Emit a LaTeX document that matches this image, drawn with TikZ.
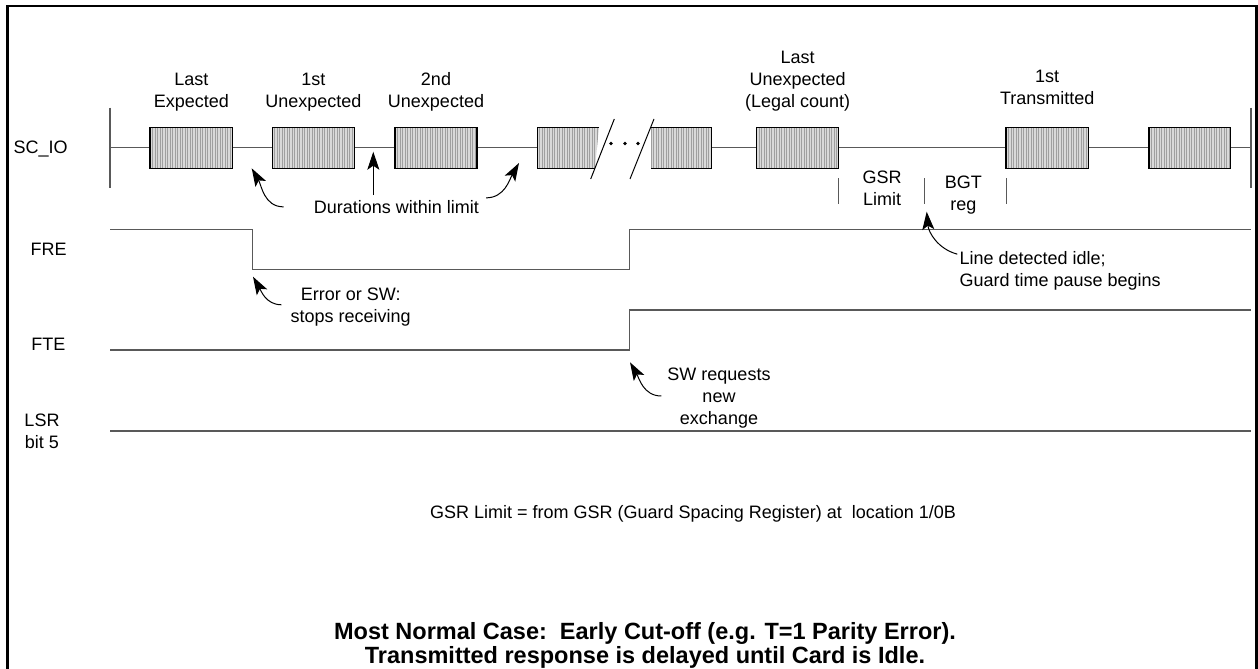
\documentclass[tikz,border=0pt]{standalone}
\usepackage{fontspec}
\setmainfont{Liberation Sans}
\usetikzlibrary{arrows.meta, positioning, calc}

% hatched data block (left x, right x)
\newcommand{\hatchfill}[2]{%
  \begin{scope}
    \clip (#1,127.3) rectangle (#2,168.3);
    \fill[gray!30] (#1,127.3) rectangle (#2,168.3);
    \foreach \k in {0,2.5,...,85}
      \draw[gray!75, line width=0.9pt] ({#1+\k},127.3) -- ({#1+\k},168.3);
  \end{scope}}

\begin{document}
\begin{tikzpicture}[
    x=1pt, y=-1pt,
    sig/.style={draw=black!65, line width=1.3pt},
    box/.style={draw=black, line width=1.4pt},
    frame/.style={draw=black, line width=2.6pt},
    brk/.style={draw=black, line width=1pt},
    lbl/.style={font=\fontsize{18}{21.6}\selectfont, align=center, inner sep=0pt},
    ttl/.style={font=\fontsize{23.5}{24}\selectfont\bfseries, align=center, inner sep=0pt},
    arr/.style={draw=black, line width=1pt, -{Stealth[length=18pt, width=12pt, inset=4pt]}}
  ]
  \useasboundingbox (0,0) rectangle (1258,669);
  \draw[frame] (7.5,669) -- (7.5,6) -- (1256.5,6) -- (1256.5,669);

  % Signal names
  \node[lbl, anchor=base] (sclbl) at (40.7,153.3) {SC\_IO};
  \node[lbl, anchor=base] (frelbl) at (48.7,255) {FRE};
  \node[lbl, anchor=base] (ftelbl) at (48.3,350) {FTE};
  \node[lbl, anchor=base] (lsrlbl) at (42,448.5) {LSR\\bit 5};

  % SC_IO line
  \draw[sig] (110,107.7) -- (110,188.3);
  \draw[sig] (1251,107.7) -- (1251,188.3);
  \draw[sig] (110,147.7) -- (537.3,147.7);
  \draw[sig] (711.7,147.7) -- (1251,147.7);
  \draw[sig] (838.7,178.3) -- (838.7,204);
  \draw[sig] (924.3,178.3) -- (924.3,204);
  \draw[sig] (1006.7,178.3) -- (1006.7,204);

  % Blocks
  \hatchfill{150}{232.3}
  \draw[box] (150,127.3) rectangle (232.3,168.3);
  \hatchfill{272.3}{354.3}
  \draw[box] (272.3,127.3) rectangle (354.3,168.3);
  \hatchfill{395}{477}
  \draw[box] (395,127.3) rectangle (477,168.3);
  \begin{scope}
    \clip (537.3,127.3) -- (599,127.3) -- (594.9,168.3) -- (537.3,168.3) -- cycle;
    \hatchfill{537.3}{600}
  \end{scope}
  \draw[box] (599,127.3) -- (537.3,127.3) -- (537.3,168.3) -- (594.9,168.3);
  \hatchfill{651}{711.7}
  \draw[box] (651,127.3) -- (711.7,127.3) -- (711.7,168.3) -- (651,168.3);
  \hatchfill{756.7}{838.7}
  \draw[box] (756.7,127.3) rectangle (838.7,168.3);
  \hatchfill{1006}{1088.3}
  \draw[box] (1006,127.3) rectangle (1088.3,168.3);
  \hatchfill{1149}{1230.7}
  \draw[box] (1149,127.3) rectangle (1230.7,168.3);

  % Break
  \draw[brk] (614.3,119) -- (590.7,179);
  \draw[brk] (654,119) -- (630,179);
  \foreach \x in {611,625,638}
    \fill (\x,143.5) circle (1.8);

  % FRE, FTE, LSR
  \draw[sig] (110,229.3) -| (252.3,269.3) -| (629.3,229.3) -- (1251,229.3);
  \draw[sig] (110,350) -| (629.3,310) -- (1251,310);
  \draw[sig] (110,431) -- (1251,431);

  % Block labels
  \node[lbl, anchor=base] (lastexp) at (191.3,107) {Last\\Expected};
  \node[lbl, anchor=base] (unexp1) at (313.3,107) {1st\\Unexpected};
  \node[lbl, anchor=base] (unexp2) at (436,107) {2nd\\Unexpected};
  \node[lbl, anchor=base] (lastunexp) at (797.7,107) {Last\\Unexpected\\(Legal count)};
  \node[lbl, anchor=base] (xmit1) at (1047.2,104) {1st\\Transmitted};
  \node[lbl, anchor=base] (gsrlim) at (882,205) {GSR\\Limit};
  \node[lbl, anchor=base] (bgtreg) at (963.3,210.5) {BGT\\reg};

  % Notes
  \node[lbl, anchor=base] (durlbl) at (396.3,213.3) {Durations within limit};
  \node[lbl, anchor=base] (errlbl) at (350.7,322) {Error or SW:\\stops receiving};
  \node[lbl, anchor=base] (swlbl) at (719,424) {SW requests\\new\\exchange};
  \node[lbl, anchor=base west, align=left] (idlelbl) at (959.3,286) {Line detected idle;\\Guard time pause begins};
  \node[lbl, anchor=base west] (note) at (430,518) {GSR Limit = from GSR (Guard Spacing Register) at\ \ location 1/0B};
  \node[ttl, anchor=base] (title) at (645,663) {Most Normal Case:\ \ Early Cut-off (e.g. T=1 Parity Error).\\Transmitted response is delayed until Card is Idle.};

  % Pointers
  \coordinate (tipA) at (251.7,168.3);
  \coordinate (tipB) at (373.3,151.7);
  \coordinate (tipC) at (519,163);
  \coordinate (tipErr) at (253,276.7);
  \coordinate (tipSW) at (630,362.3);
  \coordinate (tipIdle) at (926.7,211.7);
  \draw[arr] ([xshift=-30pt]durlbl.west) to[out=180,in=-60] (tipA);
  \draw[arr] ($(durlbl.north -| tipB)+(0,-5)$) -- (tipB);
  \draw[arr] ([xshift=7pt,yshift=9pt]durlbl.east) to[out=0,in=-120] (tipC);
  \draw[arr] ([xshift=-9pt,yshift=2pt]errlbl.west) to[out=180,in=-60] (tipErr);
  \draw[arr] ([xshift=-6pt,yshift=2pt]swlbl.west) to[out=180,in=-60] (tipSW);
  \draw[arr] ([xshift=-2pt,yshift=-3pt]idlelbl.north west) to[out=165,in=-85] (tipIdle);
\end{tikzpicture}
\end{document}
